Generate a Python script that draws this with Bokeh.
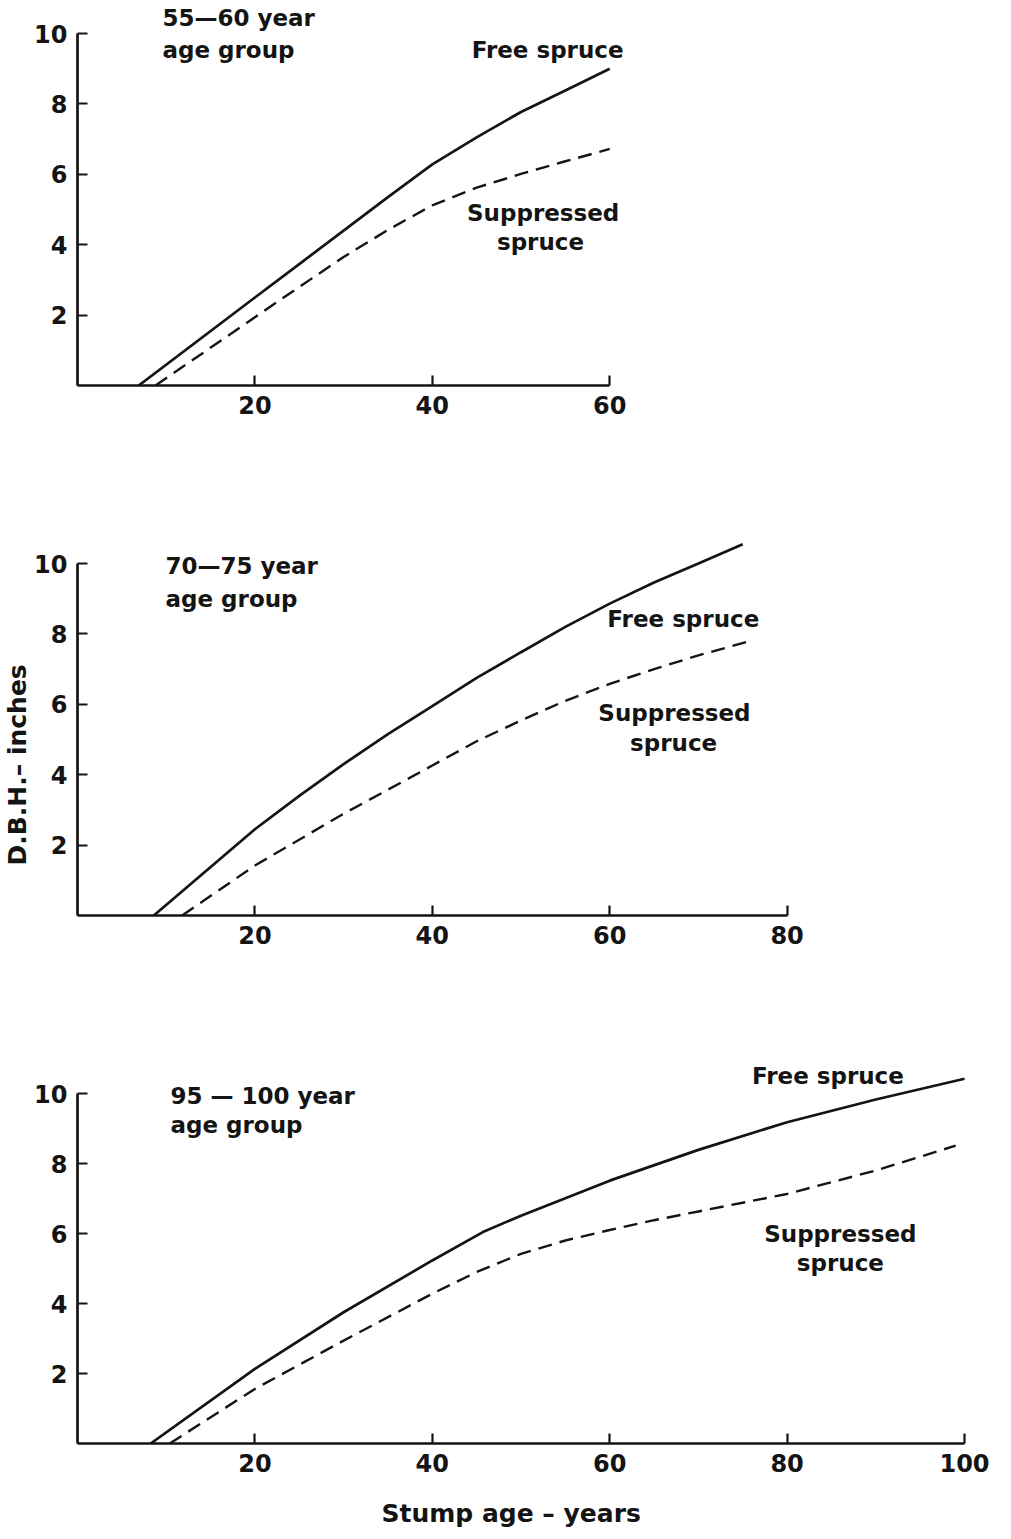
import math
from bokeh.plotting import figure
from bokeh.layouts import column
from bokeh.models import Range1d, FixedTicker, Label, Title
from bokeh.embed import file_html
from bokeh.resources import INLINE

# ---------------- data ----------------
age55_free_x = [6.9, 20, 25, 30, 35, 40, 45, 50, 55, 60]
age55_free_y = [0, 2.5, 3.45, 4.4, 5.35, 6.28, 7.05, 7.77, 8.38, 9.0]
age55_supp_x = [8.8, 20, 25, 30, 35, 40, 45, 50, 55, 60]
age55_supp_y = [0, 1.94, 2.8, 3.65, 4.42, 5.12, 5.62, 6.01, 6.37, 6.72]

age70_free_x = [8.6, 20, 25, 30, 35, 40, 45, 50, 55, 60, 65, 70, 75]
age70_free_y = [0, 2.45, 3.4, 4.3, 5.15, 5.95, 6.75, 7.48, 8.2, 8.86, 9.46, 10.0, 10.55]
age70_supp_x = [11.8, 20, 30, 40, 45, 50, 55, 60, 65, 70, 76]
age70_supp_y = [0, 1.42, 2.89, 4.26, 4.95, 5.54, 6.1, 6.58, 7.0, 7.39, 7.81]

age95_free_x = [8.25, 20, 30, 40, 45.7, 50, 60, 70, 80, 90, 100]
age95_free_y = [0, 2.13, 3.75, 5.23, 6.04, 6.51, 7.51, 8.39, 9.18, 9.83, 10.42]
age95_supp_x = [10.4, 20, 30, 40, 45, 50, 55, 60, 65, 70, 80, 90, 99]
age95_supp_y = [0, 1.56, 2.94, 4.28, 4.9, 5.42, 5.8, 6.1, 6.38, 6.63, 7.13, 7.8, 8.51]

y_ticks = [2, 4, 6, 8, 10]
x_ticks_55 = [20, 40, 60]
x_ticks_70 = [20, 40, 60, 80]
x_ticks_95 = [20, 40, 60, 80, 100]

group_titles = ["55\u201460 year", "70\u201475 year", "95 \u2014 100 year"]
group_sub = "age group"
free_label = "Free spruce"
supp_label = ["Suppressed", "spruce"]
y_title = "D.B.H.\u2013 inches"
x_title = "Stump age \u2013 years"

# ---------------- styling ----------------
INK = "#141414"
FONT = "DejaVu Sans"
PX_X = 8.87
FRAME_W = 915


def lab(p, x, y, text, size="23px", align="left"):
    p.add_layout(Label(x=x, y=y, text=text, text_font=FONT, text_font_size=size,
                       text_font_style="bold", text_color=INK, text_align=align,
                       text_baseline="middle"))


def make_panel(fx, fy, sx, sy, xticks, xmax, frame_h, px_y, border_top, border_bottom):
    p = figure(output_backend="svg", toolbar_location=None,
               frame_width=FRAME_W, frame_height=frame_h,
               x_range=Range1d(0, FRAME_W / PX_X), y_range=Range1d(0, frame_h / px_y),
               min_border_left=77, min_border_right=4,
               min_border_top=border_top, min_border_bottom=border_bottom,
               background_fill_color="white", border_fill_color="white")
    p.outline_line_color = None
    p.grid.visible = False
    p.line(fx, fy, line_color=INK, line_width=2.7)
    p.line(sx, sy, line_color=INK, line_width=2.4, line_dash="14 8")

    for ax in (p.xaxis[0], p.yaxis[0]):
        ax.axis_line_color = INK
        ax.axis_line_width = 2.7
        ax.major_tick_line_color = INK
        ax.major_tick_line_width = 2.2
        ax.major_tick_in = 10
        ax.major_tick_out = 0
        ax.minor_tick_line_color = None
        ax.major_label_text_font = FONT
        ax.major_label_text_font_size = "24px"
        ax.major_label_text_font_style = "bold"
        ax.major_label_text_color = INK
        ax.major_label_standoff = 10
    p.xaxis.ticker = FixedTicker(ticks=xticks)
    p.yaxis.ticker = FixedTicker(ticks=y_ticks)
    p.xaxis.bounds = (0, xmax)
    p.yaxis.bounds = (0, 10)
    return p


p1 = make_panel(age55_free_x, age55_free_y, age55_supp_x, age55_supp_y,
                x_ticks_55, 60, 381, 35.2, 4, 135)
lab(p1, 9.58, 10.43, group_titles[0])
lab(p1, 9.58, 9.52, group_sub)
lab(p1, 53.0, 9.52, free_label, align="center")
lab(p1, 52.5, 4.89, supp_label[0], align="center")
lab(p1, 52.2, 4.09, supp_label[1], align="center")

p2 = make_panel(age70_free_x, age70_free_y, age70_supp_x, age70_supp_y,
                x_ticks_70, 80, 381, 35.2, 14, 130)
lab(p2, 9.92, 9.94, group_titles[1])
lab(p2, 9.92, 9.0, group_sub)
lab(p2, 68.3, 8.41, free_label, align="center")
lab(p2, 67.3, 5.74, supp_label[0], align="center")
lab(p2, 67.2, 4.89, supp_label[1], align="center")
p2.add_layout(Title(text=y_title, align="left", offset=50, standoff=0,
                    text_font=FONT, text_font_size="25px", text_font_style="bold",
                    text_color=INK), "left")

p3 = make_panel(age95_free_x, age95_free_y, age95_supp_x, age95_supp_y,
                x_ticks_95, 100, 390, 35.0, 8, 94)
lab(p3, 10.48, 9.94, group_titles[2])
lab(p3, 10.48, 9.09, group_sub)
lab(p3, 84.6, 10.51, free_label, align="center")
lab(p3, 86.0, 6.0, supp_label[0], align="center")
lab(p3, 86.0, 5.17, supp_label[1], align="center")
p3.add_layout(Title(text=x_title, align="left", offset=304, standoff=44,
                    text_font=FONT, text_font_size="25px", text_font_style="bold",
                    text_color=INK), "below")

layout = column(p1, p2, p3, spacing=0)
open("out.html", "w").write(file_html(layout, INLINE))
